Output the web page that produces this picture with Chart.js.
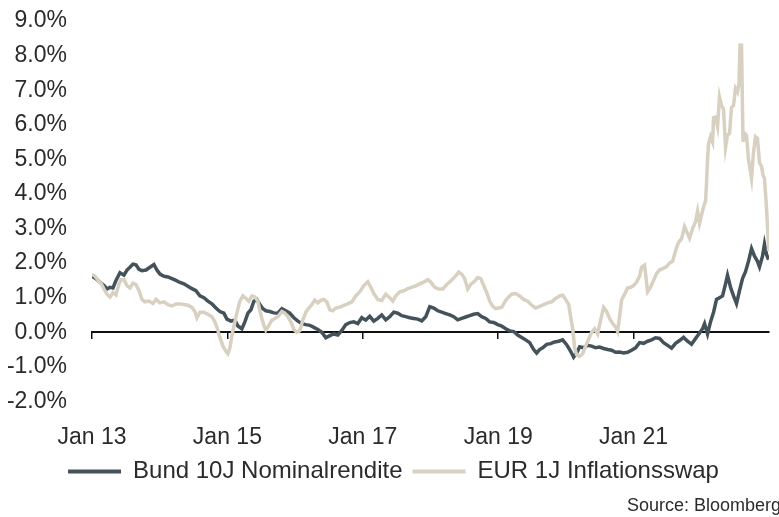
<!DOCTYPE html>
<html>
<head>
<meta charset="utf-8">
<script src="https://cdn.jsdelivr.net/npm/chart.js@4.4.1/dist/chart.umd.min.js"></script>
<style>
  html, body { margin: 0; padding: 0; background: #fff; }
  #chart { display: block; }
</style>
</head>
<body>
<canvas id="chart" width="779" height="517"></canvas>
<script>
const xTickYears = [2013, 2015, 2017, 2019, 2021];
const xTickLabels = ['Jan 13', 'Jan 15', 'Jan 17', 'Jan 19', 'Jan 21'];
const yTickValues = [-2, -1, 0, 1, 2, 3, 4, 5, 6, 7, 8, 9];
const seriesNames = ['Bund 10J Nominalrendite', 'EUR 1J Inflationsswap'];
const sourceText = 'Source: Bloomberg';

// dates are decimal years (2013.5 = early July 2013), values in percent
const bundDates = [
  2013.000, 2013.059, 2013.118, 2013.177, 2013.221, 2013.266, 2013.310, 2013.354, 2013.413, 2013.472,
  2013.517, 2013.561, 2013.605, 2013.649, 2013.694, 2013.738, 2013.797, 2013.856, 2013.915, 2013.959,
  2014.004, 2014.063, 2014.122, 2014.181, 2014.240, 2014.299, 2014.358, 2014.417, 2014.476, 2014.535,
  2014.594, 2014.653, 2014.712, 2014.771, 2014.830, 2014.889, 2014.948,
  2014.993, 2015.052, 2015.111, 2015.155, 2015.214, 2015.258, 2015.303, 2015.347, 2015.391, 2015.435,
  2015.480, 2015.524, 2015.568,
  2015.627, 2015.686, 2015.745, 2015.804, 2015.863, 2015.922, 2015.982, 2016.041, 2016.100, 2016.159,
  2016.218, 2016.277, 2016.336, 2016.395, 2016.454, 2016.513, 2016.572, 2016.631, 2016.690, 2016.749,
  2016.808, 2016.867, 2016.926, 2016.985, 2017.044, 2017.103, 2017.162, 2017.221, 2017.280, 2017.339,
  2017.398, 2017.458, 2017.517, 2017.576, 2017.635, 2017.694, 2017.753, 2017.812, 2017.871, 2017.930,
  2017.989, 2018.048, 2018.107, 2018.166, 2018.225, 2018.284, 2018.343, 2018.402, 2018.461, 2018.520,
  2018.579, 2018.638, 2018.697, 2018.756, 2018.815, 2018.874, 2018.934, 2018.993, 2019.052, 2019.111,
  2019.170, 2019.229, 2019.288, 2019.347, 2019.406, 2019.465, 2019.524,
  2019.568, 2019.612, 2019.657, 2019.716, 2019.775, 2019.834, 2019.893, 2019.952, 2020.011, 2020.070,
  2020.114, 2020.159, 2020.203,
  2020.262, 2020.321, 2020.380, 2020.439, 2020.498, 2020.557, 2020.616, 2020.675, 2020.734, 2020.793,
  2020.852, 2020.911, 2020.970, 2021.029, 2021.088, 2021.148, 2021.207, 2021.266, 2021.325, 2021.384,
  2021.443, 2021.502, 2021.561, 2021.620, 2021.679, 2021.738, 2021.797, 2021.856, 2021.915, 2021.974,
  2022.018, 2022.048, 2022.092, 2022.136, 2022.181, 2022.225, 2022.269, 2022.314, 2022.358, 2022.387,
  2022.432, 2022.476, 2022.520, 2022.564, 2022.609, 2022.653, 2022.697, 2022.742, 2022.786, 2022.830,
  2022.860, 2022.904, 2022.933, 2022.963, 2022.993
];
const bundYields = [
  1.62, 1.55, 1.45, 1.35, 1.25, 1.30, 1.28, 1.50, 1.72, 1.65,
  1.80, 1.88, 1.97, 1.95, 1.82, 1.78, 1.80, 1.88, 1.96, 1.80,
  1.68, 1.62, 1.60, 1.55, 1.50, 1.44, 1.40, 1.33, 1.26, 1.20,
  1.05, 1.00, 0.90, 0.82, 0.70, 0.60, 0.55,
  0.38, 0.32, 0.35, 0.18, 0.10, 0.30, 0.55, 0.65, 0.90, 0.95,
  0.80, 0.68, 0.62,
  0.60, 0.56, 0.55, 0.68, 0.62, 0.55, 0.42, 0.32, 0.25, 0.22,
  0.20, 0.14, 0.08, 0.00, -0.16, -0.10, -0.05, -0.08, 0.05, 0.22,
  0.28, 0.30, 0.25, 0.42, 0.35, 0.46, 0.32, 0.40, 0.50, 0.36,
  0.45, 0.58, 0.55, 0.48, 0.45, 0.42, 0.40, 0.38, 0.33, 0.45,
  0.74, 0.70, 0.62, 0.58, 0.54, 0.50, 0.45, 0.36, 0.40, 0.44,
  0.48, 0.52, 0.54, 0.45, 0.40, 0.30, 0.28, 0.22, 0.18, 0.10,
  0.04, 0.02, -0.08, -0.15, -0.22, -0.30, -0.50,
  -0.60, -0.50, -0.45, -0.35, -0.33, -0.28, -0.26, -0.22, -0.36, -0.55,
  -0.72, -0.60, -0.42,
  -0.45, -0.38, -0.40, -0.45, -0.43, -0.47, -0.50, -0.52, -0.58, -0.57,
  -0.60, -0.58, -0.52, -0.45, -0.30, -0.32, -0.26, -0.22, -0.16, -0.18,
  -0.30, -0.38, -0.46, -0.32, -0.24, -0.15, -0.26, -0.35, -0.18, -0.02,
  0.10, 0.25, -0.05, 0.30, 0.58, 0.95, 1.00, 1.05, 1.40, 1.65,
  1.30, 1.05, 0.83, 1.20, 1.55, 1.75, 2.05, 2.42, 2.20, 2.05,
  1.89, 2.20, 2.55, 2.25, 2.10
];

const swapDates = [
  2013.000, 2013.044, 2013.089, 2013.133, 2013.177, 2013.221, 2013.266, 2013.310, 2013.354, 2013.399,
  2013.428, 2013.472, 2013.517, 2013.561, 2013.605, 2013.649, 2013.694, 2013.738, 2013.782, 2013.841,
  2013.900, 2013.945,
  2014.004, 2014.063, 2014.122, 2014.181, 2014.240, 2014.299, 2014.358, 2014.417, 2014.476, 2014.520,
  2014.550, 2014.594, 2014.653, 2014.712, 2014.771, 2014.815, 2014.845, 2014.889, 2014.934, 2014.978,
  2015.007, 2015.037, 2015.066, 2015.111, 2015.140, 2015.184, 2015.229, 2015.273, 2015.317, 2015.362,
  2015.406, 2015.450,
  2015.480, 2015.509, 2015.539, 2015.568, 2015.613, 2015.657, 2015.701, 2015.745, 2015.804, 2015.849,
  2015.893, 2015.937, 2015.982, 2016.026, 2016.070, 2016.114, 2016.159, 2016.203, 2016.247, 2016.291,
  2016.336, 2016.380, 2016.424, 2016.469, 2016.513, 2016.557, 2016.601,
  2016.660, 2016.720, 2016.779, 2016.838, 2016.897, 2016.956, 2017.015, 2017.074, 2017.118, 2017.162,
  2017.221, 2017.280, 2017.339, 2017.398, 2017.443, 2017.487, 2017.546, 2017.605, 2017.664, 2017.723,
  2017.782, 2017.841, 2017.900, 2017.959, 2018.004, 2018.063, 2018.122, 2018.181, 2018.240, 2018.299,
  2018.358, 2018.417, 2018.461, 2018.505, 2018.550, 2018.594, 2018.653, 2018.697, 2018.742, 2018.786,
  2018.830, 2018.874, 2018.919, 2018.963, 2019.007,
  2019.052, 2019.111, 2019.155, 2019.199, 2019.258, 2019.317, 2019.376, 2019.435, 2019.494, 2019.553,
  2019.612, 2019.671, 2019.731, 2019.790, 2019.849, 2019.908, 2019.952, 2019.996, 2020.041, 2020.070,
  2020.100, 2020.129, 2020.159, 2020.203, 2020.247, 2020.291, 2020.336, 2020.380, 2020.424, 2020.469,
  2020.513, 2020.557, 2020.601, 2020.646, 2020.690, 2020.734, 2020.764, 2020.793, 2020.823, 2020.867,
  2020.911, 2020.956, 2021.000, 2021.044, 2021.088, 2021.118, 2021.162, 2021.207, 2021.251, 2021.295,
  2021.339, 2021.384, 2021.428, 2021.487, 2021.531, 2021.576, 2021.605, 2021.635, 2021.664, 2021.708,
  2021.753, 2021.797, 2021.826, 2021.871, 2021.915, 2021.945, 2021.974,
  2022.004, 2022.033, 2022.063, 2022.077, 2022.092, 2022.107, 2022.136, 2022.166, 2022.181, 2022.210,
  2022.240, 2022.269, 2022.299, 2022.328, 2022.358, 2022.387, 2022.417, 2022.446, 2022.476, 2022.505,
  2022.535, 2022.557, 2022.572, 2022.594, 2022.616, 2022.638, 2022.668, 2022.697, 2022.742, 2022.771,
  2022.801, 2022.830, 2022.860, 2022.889, 2022.911, 2022.933, 2022.963, 2022.985, 2022.993
];
const swapRates = [
  1.68, 1.62, 1.50, 1.42, 1.25, 1.10, 1.02, 1.15, 1.08, 1.40,
  1.52, 1.52, 1.35, 1.28, 1.42, 1.38, 1.20, 0.95, 0.88, 0.90,
  0.83, 0.95,
  0.85, 0.88, 0.80, 0.76, 0.82, 0.82, 0.80, 0.78, 0.72, 0.60,
  0.42, 0.58, 0.58, 0.52, 0.45, 0.30, 0.15, -0.15, -0.40, -0.55,
  -0.62, -0.45, -0.10, 0.30, 0.55, 0.90, 1.05, 0.98, 0.90, 1.05,
  1.02, 0.90,
  0.62, 0.40, 0.20, 0.06, 0.20, 0.35, 0.40, 0.45, 0.60, 0.55,
  0.45, 0.30, 0.08, 0.00, 0.05, 0.35, 0.58, 0.70, 0.80, 0.93,
  0.85, 0.92, 0.95, 0.88, 0.65, 0.62, 0.70,
  0.72, 0.78, 0.82, 0.88, 1.05, 1.17, 1.35, 1.46, 1.30, 1.12,
  0.95, 0.92, 1.10, 1.00, 0.90, 1.05, 1.17, 1.20, 1.26, 1.30,
  1.34, 1.40, 1.45, 1.52, 1.45, 1.30, 1.25, 1.25, 1.38, 1.48,
  1.60, 1.74, 1.68, 1.55, 1.25, 1.38, 1.48, 1.58, 1.55, 1.35,
  1.15, 0.90, 0.75, 0.68, 0.70,
  0.72, 0.92, 1.02, 1.10, 1.12, 1.05, 0.95, 0.90, 0.78, 0.70,
  0.75, 0.80, 0.85, 0.88, 0.98, 1.05, 1.07, 0.95, 0.80, 0.45,
  0.10, -0.45, -0.65, -0.70, -0.62, -0.40, -0.20, 0.00, 0.10, -0.05,
  0.35, 0.72, 0.60, 0.40, 0.25, 0.15, 0.02, 0.45, 0.93, 1.10,
  1.28, 1.30, 1.35, 1.45, 1.62, 1.88, 1.94, 1.17, 1.30, 1.50,
  1.70, 1.80, 1.84, 1.90, 2.00, 2.05, 2.25, 2.45, 2.60, 2.70,
  3.05, 2.85, 2.72, 3.00, 3.20, 3.50, 3.15,
  3.40, 3.62, 3.80, 4.30, 5.00, 5.45, 5.65, 5.50, 6.20, 6.22,
  5.95, 6.80, 6.55, 6.45, 5.35, 5.70, 5.75, 6.50, 6.55, 7.05,
  6.95, 7.20, 8.30, 8.30, 5.50, 5.75, 5.70, 5.00, 4.45, 5.20,
  5.65, 5.60, 4.90, 4.80, 4.55, 4.45, 3.60, 2.80, 2.35
];

const FONT = "'Liberation Sans', Arial, Helvetica, sans-serif";
const TEXT_COLOR = '#2b2b2b';
const BUND_COLOR = '#44525a';
const SWAP_COLOR = '#d8d0c1';

const toPoints = (dates, values) => dates.map((t, i) => ({ x: t, y: values[i] }));
const fixTicks = values => scale => { scale.ticks = values.map(v => ({ value: v })); };

new Chart(document.getElementById('chart'), {
    type: 'line',
    data: {
        datasets: [
            {
                label: seriesNames[0],
                data: toPoints(bundDates, bundYields),
                borderColor: BUND_COLOR,
                backgroundColor: BUND_COLOR,
                borderWidth: 3.5,
                pointRadius: 0,
                order: 1,
                xAxisID: 'x',
                yAxisID: 'y'
            },
            {
                label: seriesNames[1],
                data: toPoints(swapDates, swapRates),
                borderColor: SWAP_COLOR,
                backgroundColor: SWAP_COLOR,
                borderWidth: 3.5,
                pointRadius: 0,
                order: 0,
                xAxisID: 'x',
                yAxisID: 'y'
            }
        ]
    },
    options: {
        responsive: false,
        animation: false,
        layout: { padding: { top: 21, left: 6, right: -2, bottom: 0 } },
        scales: {
            x: {
                type: 'linear',
                position: 'bottom',
                min: 2013,
                max: 2023,
                afterBuildTicks: fixTicks(xTickYears),
                afterFit: scale => { scale.height = 48; },
                grid: { display: false, drawTicks: false },
                border: { display: false },
                ticks: {
                    autoSkip: false,
                    maxRotation: 0,
                    padding: 22,
                    color: TEXT_COLOR,
                    font: { family: FONT, size: 23 },
                    callback: (value, index) => xTickLabels[index]
                }
            },
            // the zero line with its year ticks
            x0: {
                type: 'linear',
                axis: 'x',
                position: { y: 0 },
                min: 2013,
                max: 2023,
                afterBuildTicks: fixTicks(xTickYears),
                afterFit: scale => { scale.height = 0; },
                grid: { drawOnChartArea: false, drawTicks: true, tickLength: 6, color: '#111', lineWidth: 1.5 },
                border: { display: true, color: '#111', width: 2 },
                ticks: { display: false }
            },
            y: {
                type: 'linear',
                position: 'left',
                min: -2,
                max: 9,
                afterBuildTicks: fixTicks(yTickValues),
                afterFit: scale => { scale.width = 86; },
                // hidden tick marks only push the labels away from the plot
                grid: { display: false, drawTicks: true, tickLength: 22 },
                border: { display: false },
                ticks: {
                    padding: 3,
                    color: TEXT_COLOR,
                    font: { family: FONT, size: 23 },
                    callback: value => value.toFixed(1) + '%'
                }
            },
            // empty spacer so the plot stops short of the right edge
            yR: {
                type: 'linear',
                axis: 'y',
                position: 'right',
                afterFit: scale => { scale.width = 12; },
                grid: { display: false, drawTicks: false },
                border: { display: false },
                ticks: { display: false }
            }
        },
        plugins: {
            legend: {
                position: 'bottom',
                labels: {
                    color: TEXT_COLOR,
                    font: { family: FONT, size: 24 },
                    boxWidth: 53,
                    boxHeight: 4,
                    padding: 10,
                    sort: (a, b) => a.datasetIndex - b.datasetIndex,
                    generateLabels: chart => Chart.defaults.plugins.legend.labels.generateLabels(chart)
                        .map(item => ({ ...item, lineWidth: 0, fillStyle: item.strokeStyle }))
                }
            },
            subtitle: {
                display: true,
                text: sourceText,
                position: 'bottom',
                align: 'end',
                color: TEXT_COLOR,
                font: { family: FONT, size: 18, weight: 'normal' },
                padding: { top: 2, bottom: 0 }
            },
            tooltip: { enabled: false }
        }
    }
});
</script>
</body>
</html>
